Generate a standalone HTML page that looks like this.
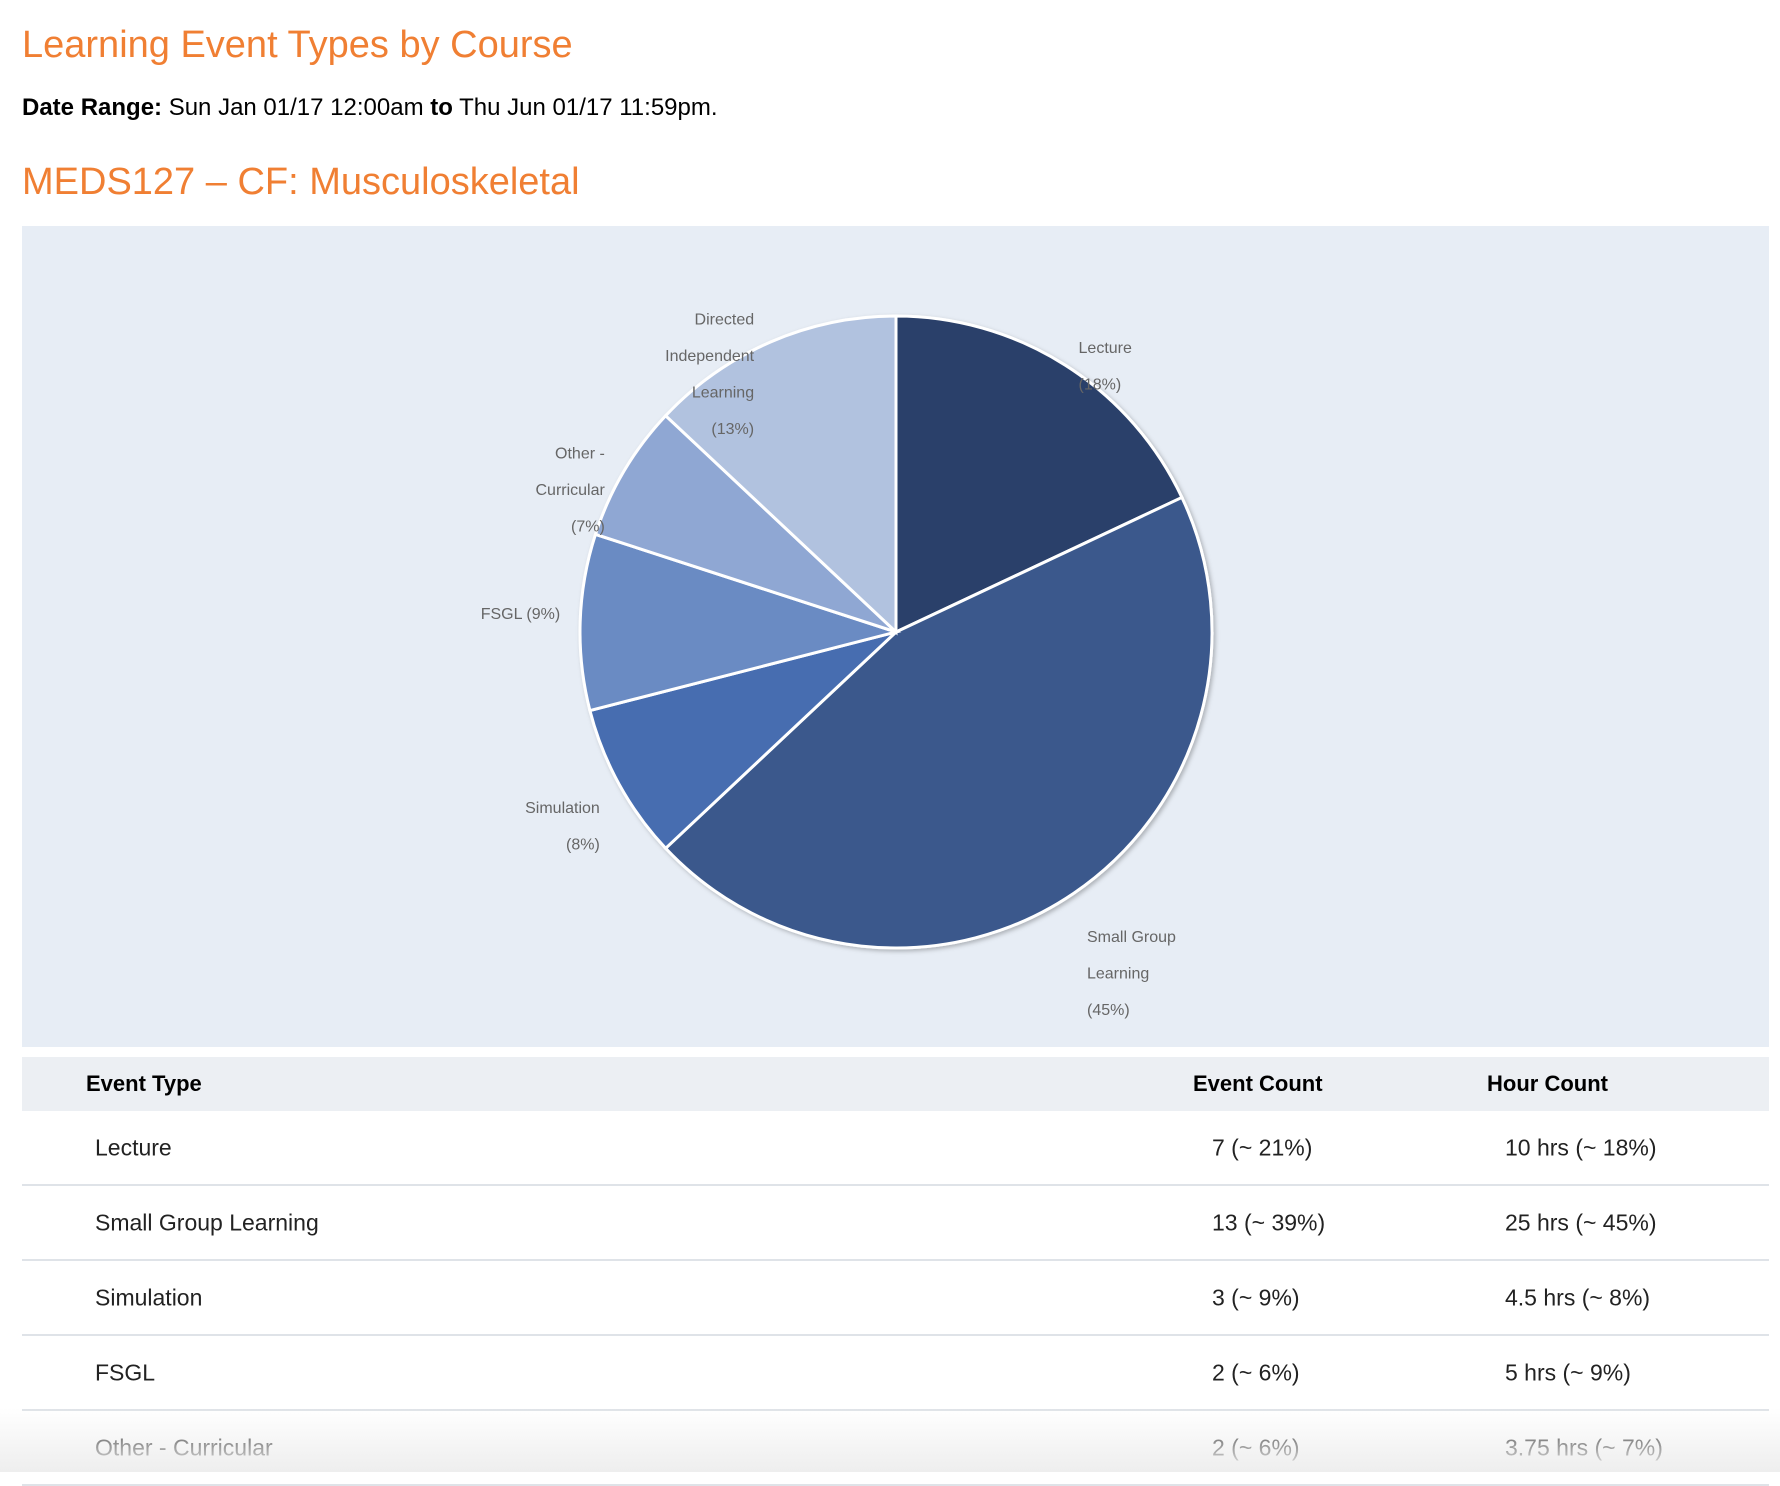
<!DOCTYPE html>
<html><head><meta charset="utf-8">
<style>
body{margin:0;width:1780px;height:1472px;background:#fff;font-family:"Liberation Sans",sans-serif;overflow:hidden;position:relative}
.h{position:absolute;left:22px;color:#f07f33;font-size:38px;margin:0;font-weight:normal;line-height:1}
#date{position:absolute;left:22px;top:94px;font-size:24px;color:#000}
#panel{position:absolute;left:22px;top:226px;width:1747px;height:821px;background:#e7edf5}
#tbl{position:absolute;left:22px;top:1057px;width:1747px}
.hdr{height:54px;background:#eceff3;position:relative;font-weight:bold;font-size:22px}
.row{height:73px;border-bottom:2px solid #dfe3e8;position:relative;font-size:23px;color:#222}
.c{position:absolute;top:50%;transform:translateY(-50%)}
#fade{position:absolute;left:0;top:1408px;width:1780px;height:64px;background:linear-gradient(#fff0,#eeeeee);pointer-events:none}
</style></head><body>
<h1 class="h" style="top:26px">Learning Event Types by Course</h1>
<div id="date"><b>Date Range:</b> Sun Jan 01/17 12:00am <b>to</b> Thu Jun 01/17 11:59pm.</div>
<h2 class="h" style="top:163px">MEDS127 – CF: Musculoskeletal</h2>
<div id="panel">
<svg id="pie" width="1747" height="821">
<defs><filter id="sh" x="-10%" y="-10%" width="120%" height="120%"><feDropShadow dx="2" dy="2" stdDeviation="2" flood-color="#000" flood-opacity="0.25"/></filter></defs>
</svg>
</div>
<div id="tbl">
<div class="hdr">
<span class="c" style="left:64px">Event Type</span><span class="c" style="left:1171px">Event Count</span><span class="c" style="left:1465px">Hour Count</span></div>
<div id="rows"></div>
</div>
<div id="fade"></div>
<script>
const categories=["Lecture","Small Group Learning","Simulation","FSGL","Other - Curricular","Directed Independent Learning"];
const hourPct=[18,45,8,9,7,13];
const labelLines=[["Lecture","(18%)"],["Small Group","Learning","(45%)"],["Simulation","(8%)"],["FSGL (9%)"],["Other -","Curricular","(7%)"],["Directed","Independent","Learning","(13%)"]];
const colors=["#2b416a","#3a598c","#466db0","#6a8bc3","#8fa7d3","#b1c2df"];
const tableTypes=["Lecture","Small Group Learning","Simulation","FSGL","Other - Curricular"];
const eventCounts=["7 (~ 21%)","13 (~ 39%)","3 (~ 9%)","2 (~ 6%)","2 (~ 6%)"];
const hourCounts=["10 hrs (~ 18%)","25 hrs (~ 45%)","4.5 hrs (~ 8%)","5 hrs (~ 9%)","3.75 hrs (~ 7%)"];
const NS="http://www.w3.org/2000/svg";
const svg=document.getElementById('pie');
const cx=874,cy=406,r=316;
const nudge=[5,74,38,-9,21,37];
const total=hourPct.reduce((a,b)=>a+b,0);
function pt(a,rr){return [cx+rr*Math.sin(a),cy-rr*Math.cos(a)];}
const g=document.createElementNS(NS,'g');g.setAttribute('filter','url(#sh)');svg.appendChild(g);
let acc=0;
hourPct.forEach((v,i)=>{
 const a0=acc/total*2*Math.PI;acc+=v;const a1=acc/total*2*Math.PI;
 const [x0,y0]=pt(a0,r),[x1,y1]=pt(a1,r);
 const p=document.createElementNS(NS,'path');
 p.setAttribute('d',`M${cx},${cy}L${x0},${y0}A${r},${r} 0 ${a1-a0>Math.PI?1:0} 1 ${x1},${y1}Z`);
 p.setAttribute('fill',colors[i]);p.setAttribute('stroke','#fff');p.setAttribute('stroke-width','3');
 
 
 g.appendChild(p);
 const am=(a0+a1)/2;const [lx,ly]=pt(am,r+6);
 const lines=labelLines[i];const lh=36.5;
 const t=document.createElementNS(NS,'text');
 
 
 const right=Math.sin(am)>0;
 t.setAttribute('text-anchor',right?'start':'end');
 t.setAttribute('font-size','16');t.setAttribute('fill','#666');t.setAttribute('font-family','Liberation Sans, sans-serif');
 const startY=ly+nudge[i]-(lines.length-1)*lh/2+6;
 lines.forEach((s,k)=>{const ts=document.createElementNS(NS,'tspan');ts.setAttribute('x',lx+(right?10:-14));ts.setAttribute('y',startY+k*lh);ts.textContent=s;t.appendChild(ts);});
 svg.appendChild(t);
});
const rows=document.getElementById('rows');
tableTypes.forEach((c,i)=>{
 const d=document.createElement('div');d.className='row';
 
 
 d.innerHTML=`<span class="c" style="left:73px">${c}</span><span class="c" style="left:1190px">${eventCounts[i]}</span><span class="c" style="left:1483px">${hourCounts[i]}</span>`;
 rows.appendChild(d);
});
</script>
</body></html>
